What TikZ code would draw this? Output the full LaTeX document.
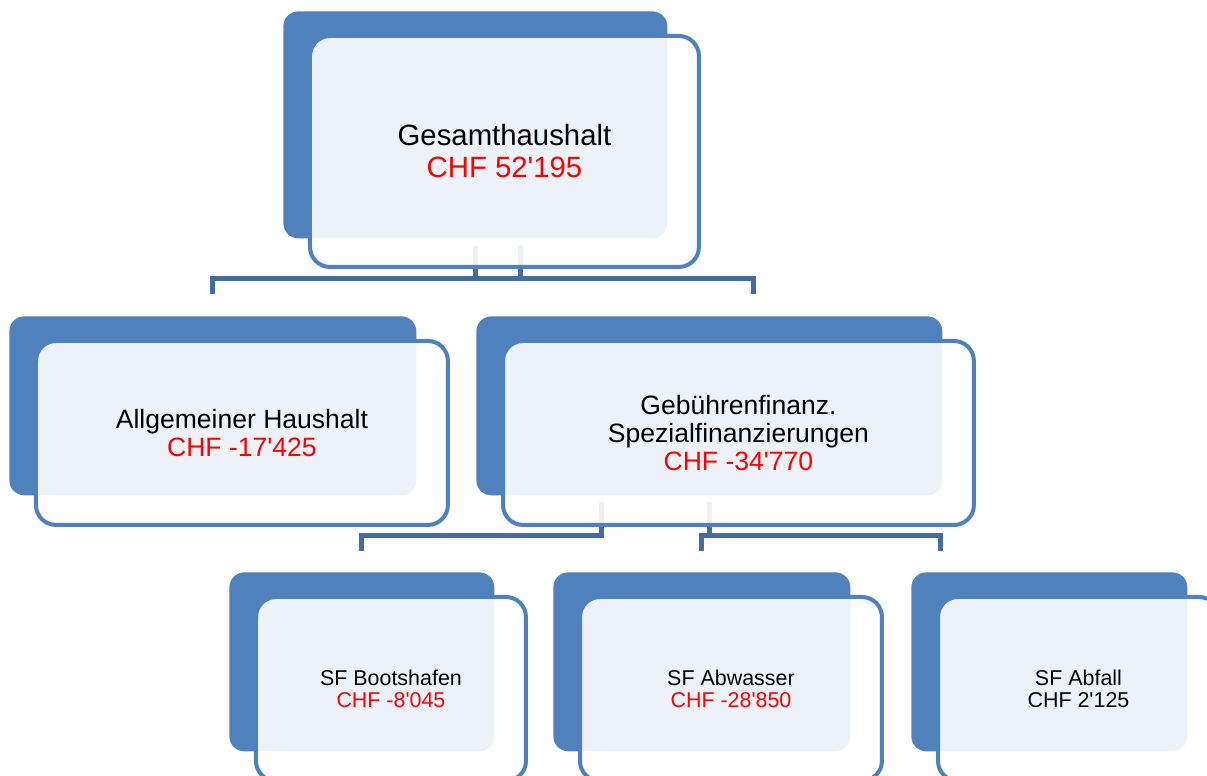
\documentclass[tikz,border=0pt]{standalone}
\usepackage{fontspec}
\newfontfamily\arialfont{Liberation Sans}
\usepackage{tikz}
\usetikzlibrary{backgrounds}
\definecolor{boxblue}{RGB}{79,129,189}
\definecolor{lineblue}{RGB}{66,108,163}

\begin{document}
\begin{tikzpicture}[x=0.02cm,y=-0.02cm,
    backbox/.style={rectangle,fill=boxblue,rounded corners=0.3cm,inner sep=0pt,anchor=north west},
    frontbox/.style={rectangle,draw=boxblue,line width=0.08cm,fill=white,fill opacity=0.9,text opacity=1,
      rounded corners=0.4cm,inner sep=0pt,align=center,anchor=north west,xshift=0.5cm,yshift=-0.46cm},
    link/.style={draw=lineblue,line width=0.1cm}]
  \useasboundingbox (0,0) rectangle (1207,776);
  \clip (0,0) rectangle (1207,776);
  % dark boxes behind
  \foreach \n/\x/\y/\w/\h in {ges/283/11/384/227, allg/9/316/407/179, geb/476/316/466/179,
      boot/229/572/265/179, abw/553/572/297/179, abf/911/572/276/179}
    \node [backbox,minimum width=\w*0.02cm,minimum height=\h*0.02cm] (\n) at (\x,\y) {};
  % light boxes with the texts
  \node [frontbox,minimum width=7.78cm,minimum height=4.62cm,font=\arialfont\fontsize{16.7}{18.2}\selectfont]
    (gesF) at (ges.north west) {Gesamthaushalt\\\textcolor{red}{CHF 52'195}};
  \node [frontbox,minimum width=8.24cm,minimum height=3.68cm,font=\arialfont\fontsize{15.1}{15.9}\selectfont]
    (allgF) at (allg.north west) {Allgemeiner Haushalt\\\textcolor{red}{CHF -17'425}};
  \node [frontbox,minimum width=9.42cm,minimum height=3.68cm,font=\arialfont\fontsize{15.1}{15.9}\selectfont]
    (gebF) at (geb.north west) {Gebührenfinanz.\\Spezialfinanzierungen\\\textcolor{red}{CHF -34'770}};
  \node [frontbox,minimum width=5.4cm,minimum height=3.68cm,font=\arialfont\fontsize{12.2}{12.5}\selectfont]
    (bootF) at (boot.north west) {SF Bootshafen\\\textcolor{red}{CHF -8'045}};
  \node [frontbox,minimum width=6.04cm,minimum height=3.68cm,font=\arialfont\fontsize{12.2}{12.5}\selectfont]
    (abwF) at (abw.north west) {SF Abwasser\\\textcolor{red}{CHF -28'850}};
  \node [frontbox,minimum width=5.62cm,minimum height=3.68cm,font=\arialfont\fontsize{12.2}{12.5}\selectfont]
    (abfF) at (abf.north west) {SF Abfall\\CHF 2'125};
  % connectors
  \begin{scope}[on background layer]
    \draw [link] ([xshift=0.9cm,yshift=-0.14cm]ges.south) -- ++(0,33) -| ([yshift=0.44cm]allg.north);
    \draw [link] ([yshift=-0.14cm]ges.south) -- ++(0,33) -| ([xshift=0.88cm,yshift=0.44cm]geb.north);
    \draw [link] ([xshift=-2.16cm,yshift=-0.12cm]geb.south) -- ++(0,34) -| ([yshift=0.42cm]boot.north);
    \draw [link] ([yshift=-0.12cm]geb.south) -- ++(0,34) -| ([yshift=0.42cm]abw.north);
    \draw [link] ([yshift=-0.12cm]geb.south) -- ++(0,34) -| ([xshift=-2.18cm,yshift=0.42cm]abf.north);
  \end{scope}
\end{tikzpicture}
\end{document}
